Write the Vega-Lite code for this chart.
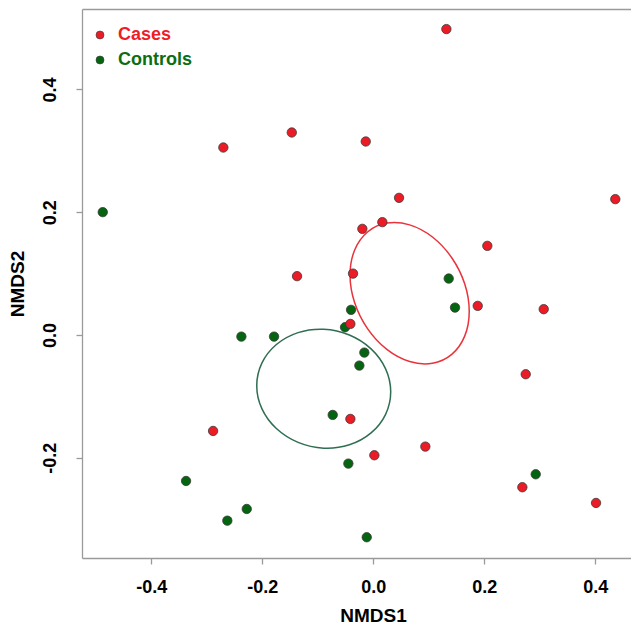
{
  "$schema": "https://vega.github.io/schema/vega-lite/v6.json",
  "autosize": "none",
  "width": 549,
  "height": 549,
  "padding": {"left": 82, "top": 9, "right": 0, "bottom": 67},
  "background": "white",
  "config": {
    "view": {"stroke": null},
    "font": "Liberation Sans",
    "axis": {
      "grid": false,
      "domainColor": "#9a9a9a",
      "domainWidth": 1.3,
      "tickColor": "#9a9a9a",
      "tickWidth": 1.3,
      "tickSize": 6,
      "labelFont": "Liberation Sans",
      "labelFontWeight": "bold",
      "labelFontSize": 18,
      "labelColor": "#000000",
      "titleFont": "Liberation Sans",
      "titleFontWeight": "bold",
      "titleFontSize": 19,
      "titleColor": "#000000"
    },
    "legend": {
      "labelFont": "Liberation Sans",
      "labelFontWeight": "bold",
      "labelFontSize": 18
    }
  },
  "datasets": {
    "pts": [
      {"NMDS1": -0.4876, "NMDS2": 0.2, "group": "Controls"},
      {"NMDS1": 0.1358, "NMDS2": 0.0918, "group": "Controls"},
      {"NMDS1": 0.1472, "NMDS2": 0.0445, "group": "Controls"},
      {"NMDS1": -0.0402, "NMDS2": 0.0408, "group": "Controls"},
      {"NMDS1": -0.2378, "NMDS2": -0.0028, "group": "Controls"},
      {"NMDS1": -0.1789, "NMDS2": -0.0028, "group": "Controls"},
      {"NMDS1": -0.3375, "NMDS2": -0.238, "group": "Controls"},
      {"NMDS1": -0.2281, "NMDS2": -0.2836, "group": "Controls"},
      {"NMDS1": -0.2631, "NMDS2": -0.3027, "group": "Controls"},
      {"NMDS1": -0.051, "NMDS2": 0.0125, "group": "Controls"},
      {"NMDS1": -0.0162, "NMDS2": -0.0288, "group": "Controls"},
      {"NMDS1": -0.0252, "NMDS2": -0.05, "group": "Controls"},
      {"NMDS1": -0.0732, "NMDS2": -0.1304, "group": "Controls"},
      {"NMDS1": -0.045, "NMDS2": -0.2097, "group": "Controls"},
      {"NMDS1": 0.2926, "NMDS2": -0.2271, "group": "Controls"},
      {"NMDS1": -0.0119, "NMDS2": -0.3297, "group": "Controls"},
      {"NMDS1": -0.2703, "NMDS2": 0.3053, "group": "Cases"},
      {"NMDS1": -0.147, "NMDS2": 0.3298, "group": "Cases"},
      {"NMDS1": -0.1375, "NMDS2": 0.0957, "group": "Cases"},
      {"NMDS1": 0.1316, "NMDS2": 0.4983, "group": "Cases"},
      {"NMDS1": -0.0137, "NMDS2": 0.3151, "group": "Cases"},
      {"NMDS1": 0.0463, "NMDS2": 0.2233, "group": "Cases"},
      {"NMDS1": 0.436, "NMDS2": 0.2212, "group": "Cases"},
      {"NMDS1": -0.0198, "NMDS2": 0.1728, "group": "Cases"},
      {"NMDS1": 0.0162, "NMDS2": 0.1837, "group": "Cases"},
      {"NMDS1": 0.2054, "NMDS2": 0.1451, "group": "Cases"},
      {"NMDS1": -0.0366, "NMDS2": 0.0999, "group": "Cases"},
      {"NMDS1": 0.1881, "NMDS2": 0.0473, "group": "Cases"},
      {"NMDS1": 0.307, "NMDS2": 0.0419, "group": "Cases"},
      {"NMDS1": -0.2888, "NMDS2": -0.1565, "group": "Cases"},
      {"NMDS1": -0.0414, "NMDS2": 0.0179, "group": "Cases"},
      {"NMDS1": 0.2746, "NMDS2": -0.0641, "group": "Cases"},
      {"NMDS1": -0.0414, "NMDS2": -0.1369, "group": "Cases"},
      {"NMDS1": 0.0937, "NMDS2": -0.182, "group": "Cases"},
      {"NMDS1": 0.0018, "NMDS2": -0.1961, "group": "Cases"},
      {"NMDS1": 0.2685, "NMDS2": -0.2482, "group": "Cases"},
      {"NMDS1": 0.4013, "NMDS2": -0.2738, "group": "Cases"}
    ],
    "ell": [
      {"group": "Cases", "i": 0, "NMDS1": 0.1728, "NMDS2": 0.0383},
      {"group": "Cases", "i": 1, "NMDS1": 0.1646, "NMDS2": -0.002},
      {"group": "Cases", "i": 2, "NMDS1": 0.1413, "NMDS2": -0.0317},
      {"group": "Cases", "i": 3, "NMDS1": 0.1065, "NMDS2": -0.0462},
      {"group": "Cases", "i": 4, "NMDS1": 0.0654, "NMDS2": -0.0433},
      {"group": "Cases", "i": 5, "NMDS1": 0.0243, "NMDS2": -0.0235},
      {"group": "Cases", "i": 6, "NMDS1": -0.0105, "NMDS2": 0.0103},
      {"group": "Cases", "i": 7, "NMDS1": -0.0338, "NMDS2": 0.0528},
      {"group": "Cases", "i": 8, "NMDS1": -0.042, "NMDS2": 0.0977},
      {"group": "Cases", "i": 9, "NMDS1": -0.0338, "NMDS2": 0.138},
      {"group": "Cases", "i": 10, "NMDS1": -0.0105, "NMDS2": 0.1677},
      {"group": "Cases", "i": 11, "NMDS1": 0.0243, "NMDS2": 0.1822},
      {"group": "Cases", "i": 12, "NMDS1": 0.0654, "NMDS2": 0.1793},
      {"group": "Cases", "i": 13, "NMDS1": 0.1065, "NMDS2": 0.1595},
      {"group": "Cases", "i": 14, "NMDS1": 0.1413, "NMDS2": 0.1257},
      {"group": "Cases", "i": 15, "NMDS1": 0.1646, "NMDS2": 0.0832},
      {"group": "Controls", "i": 0, "NMDS1": 0.0313, "NMDS2": -0.0927},
      {"group": "Controls", "i": 1, "NMDS1": 0.0221, "NMDS2": -0.1294},
      {"group": "Controls", "i": 2, "NMDS1": -0.0041, "NMDS2": -0.1597},
      {"group": "Controls", "i": 3, "NMDS1": -0.0432, "NMDS2": -0.1791},
      {"group": "Controls", "i": 4, "NMDS1": -0.0894, "NMDS2": -0.1845},
      {"group": "Controls", "i": 5, "NMDS1": -0.1356, "NMDS2": -0.1752},
      {"group": "Controls", "i": 6, "NMDS1": -0.1747, "NMDS2": -0.1526},
      {"group": "Controls", "i": 7, "NMDS1": -0.2009, "NMDS2": -0.1201},
      {"group": "Controls", "i": 8, "NMDS1": -0.2101, "NMDS2": -0.0827},
      {"group": "Controls", "i": 9, "NMDS1": -0.2009, "NMDS2": -0.046},
      {"group": "Controls", "i": 10, "NMDS1": -0.1747, "NMDS2": -0.0157},
      {"group": "Controls", "i": 11, "NMDS1": -0.1356, "NMDS2": 0.0037},
      {"group": "Controls", "i": 12, "NMDS1": -0.0894, "NMDS2": 0.0091},
      {"group": "Controls", "i": 13, "NMDS1": -0.0432, "NMDS2": -0.0002},
      {"group": "Controls", "i": 14, "NMDS1": -0.0041, "NMDS2": -0.0228},
      {"group": "Controls", "i": 15, "NMDS1": 0.0221, "NMDS2": -0.0553}
    ]
  },
  "layer": [
    {
      "data": {"name": "ell"},
      "transform": [{"filter": "datum.group === 'Cases'"}],
      "mark": {"type": "line", "interpolate": "cardinal-closed", "strokeWidth": 1.5, "color": "#e8333b"},
      "encoding": {
        "x": {"field": "NMDS1", "type": "quantitative", "scale": {"domain": [-0.525, 0.4643], "nice": false, "zero": false},
          "axis": {"values": [-0.4, -0.2, 0, 0.2, 0.4], "labelExpr": "datum.value < 0 ? '-' + format(abs(datum.value), '.1f') : format(datum.value, '.1f')", "labelPadding": 14, "title": "NMDS1", "titlePadding": 10, "titleX": 291}},
        "y": {"field": "NMDS2", "type": "quantitative", "scale": {"domain": [-0.3635, 0.531], "nice": false, "zero": false},
          "axis": {"values": [-0.2, 0, 0.2, 0.4], "labelExpr": "datum.value < 0 ? '-' + format(abs(datum.value), '.1f') : format(datum.value, '.1f')", "labelAngle": 270, "labelAlign": "center", "labelBaseline": "alphabetic", "labelPadding": 21, "title": "NMDS2", "titlePadding": 14}},
        "order": {"field": "i", "type": "quantitative"}
      }
    },
    {
      "data": {"name": "ell"},
      "transform": [{"filter": "datum.group === 'Controls'"}],
      "mark": {"type": "line", "interpolate": "cardinal-closed", "strokeWidth": 1.5, "color": "#2f6e52"},
      "encoding": {
        "x": {"field": "NMDS1", "type": "quantitative", "scale": {"domain": [-0.525, 0.4643], "nice": false, "zero": false}, "axis": null},
        "y": {"field": "NMDS2", "type": "quantitative", "scale": {"domain": [-0.3635, 0.531], "nice": false, "zero": false}},
        "order": {"field": "i", "type": "quantitative"}
      }
    },
    {
      "data": {"name": "pts"},
      "mark": {"type": "circle", "size": 88, "stroke": "#3a3a3a", "strokeWidth": 0.8, "opacity": 1},
      "encoding": {
        "x": {"field": "NMDS1", "type": "quantitative", "scale": {"domain": [-0.525, 0.4643], "nice": false, "zero": false},
          "axis": {"orient": "top", "labels": false, "ticks": false, "title": null, "domain": true}},
        "y": {"field": "NMDS2", "type": "quantitative", "scale": {"domain": [-0.3635, 0.531], "nice": false, "zero": false}},
        "color": {"field": "group", "type": "nominal", "scale": {"domain": ["Cases", "Controls"], "range": ["#ec1c26", "#05640f"]},
          "legend": {
            "title": null, "orient": "none", "legendX": 9, "legendY": 17, "padding": 0,
            "symbolSize": 64, "symbolStrokeColor": "#3a3a3a", "symbolStrokeWidth": 0.6, "labelOffset": 9, "rowPadding": 7,
            "labelColor": {"expr": "datum.label === 'Cases' ? '#f01c24' : '#0b6e12'"}
          }}
      }
    }
  ],
  "resolve": {"axis": {"x": "independent"}}
}
